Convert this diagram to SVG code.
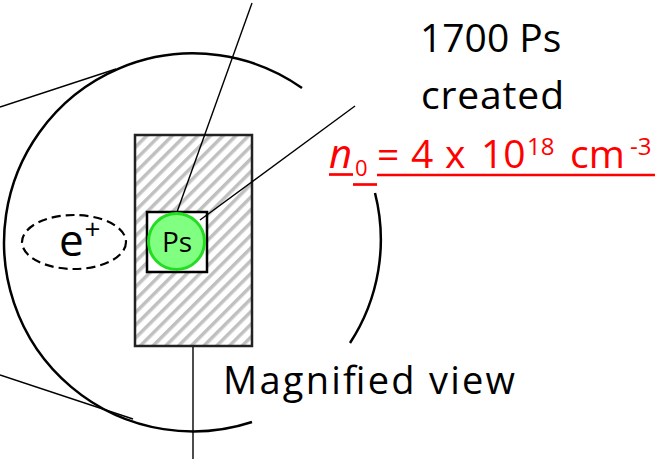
<svg xmlns="http://www.w3.org/2000/svg" width="659" height="459" viewBox="0 0 659 459">
  <defs>
    <pattern id="hatch" patternUnits="userSpaceOnUse" width="9" height="9" patternTransform="rotate(45)">
      <rect width="9" height="9" fill="#ffffff"/>
      <rect x="0" y="0" width="3.5" height="9" fill="#c0c0c0"/>
    </pattern>
    <style>
      .txt { font-family: "Open Sans", "Liberation Sans", sans-serif; fill: #000000; }
      .red { font-family: "Open Sans", "Liberation Sans", sans-serif; fill: #ff0000; }
      .thin { stroke: #000000; stroke-width: 1.4; fill: none; }
      .arc { stroke: #000000; stroke-width: 2.5; fill: none; }
      .ul { stroke: #ff0000; stroke-width: 2.7; }
    </style>
  </defs>
  <rect width="659" height="459" fill="#ffffff"/>

  <g id="magnified-circle">
    <path class="arc" d="M252,422 A189,189 0 1 1 302,88"/>
    <path class="arc" d="M375,193 A189,189 0 0 1 350,343"/>
  </g>

  <g id="target">
    <rect x="135" y="135" width="117" height="211" fill="url(#hatch)" stroke="#222222" stroke-width="2.5"/>
  </g>

  <g id="ps-region">
    <rect x="147" y="212" width="60" height="60" fill="#ffffff" stroke="#000000" stroke-width="2.5"/>
  </g>

  <g id="connectors">
    <line class="thin" x1="0" y1="107" x2="116" y2="69"/>
    <line class="thin" x1="0" y1="375" x2="133" y2="419"/>
    <line class="thin" x1="252" y1="3" x2="177" y2="212"/>
    <line class="thin" x1="355" y1="106" x2="200" y2="220"/>
    <line class="thin" x1="193" y1="347" x2="193" y2="459"/>
  </g>

  <g id="ps">
    <circle cx="176.5" cy="241.5" r="28" fill="#80ff80" stroke="#22dd22" stroke-width="3"/>
    <text class="txt" x="177" y="252" font-size="28" text-anchor="middle">Ps</text>
  </g>

  <g id="positron">
    <ellipse cx="74" cy="242" rx="52" ry="27" fill="none" stroke="#000000" stroke-width="2.2" stroke-dasharray="9,5"/>
    <text class="txt" x="59" y="256" font-size="44">e</text>
    <text class="txt" x="84.5" y="239" font-size="28">+</text>
  </g>

  <g id="label-created">
    <text class="txt" x="420" y="52" font-size="39">1700 Ps</text>
    <text class="txt" x="421" y="109" font-size="39" textLength="143">created</text>
  </g>

  <g id="label-density">
    <text class="red" x="329" y="168" font-size="40" font-style="italic">n</text>
    <text class="red" x="355" y="176" font-size="22">0</text>
    <text class="red" x="377" y="168" font-size="39">=</text>
    <text class="red" x="411" y="168" font-size="39">4</text>
    <text class="red" x="445" y="168" font-size="39">x</text>
    <text class="red" x="481" y="168" font-size="39">10</text>
    <text class="red" x="527" y="155" font-size="24">18</text>
    <text class="red" x="570" y="168" font-size="39">cm</text>
    <text class="red" x="630" y="155" font-size="24">-3</text>
    <line class="ul" x1="329" y1="174.5" x2="353" y2="174.5"/>
    <line class="ul" x1="353" y1="184.5" x2="377" y2="184.5"/>
    <line class="ul" x1="377" y1="175" x2="655" y2="175"/>
  </g>

  <g id="label-magnified">
    <text class="txt" x="223" y="394" font-size="38" textLength="292">Magnified view</text>
  </g>
</svg>
